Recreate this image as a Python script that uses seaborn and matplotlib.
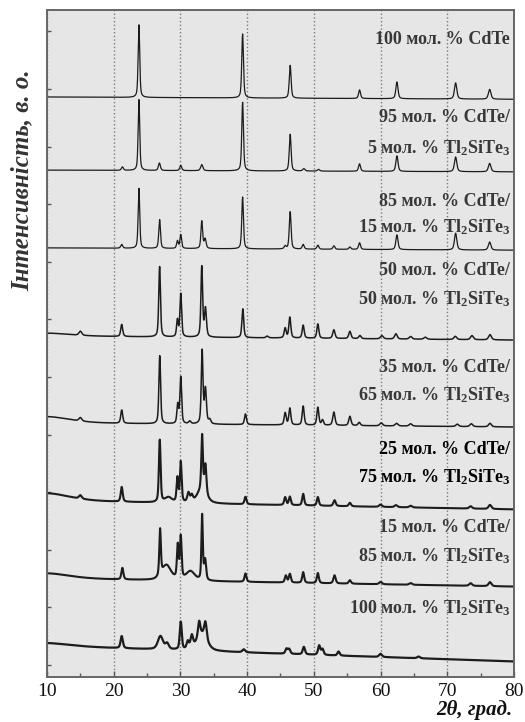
import numpy as np
import pandas as pd
import matplotlib
matplotlib.use("Agg")
import matplotlib.pyplot as plt
import seaborn as sns

# ---------------------------------------------------------------------------
# Powder XRD patterns of the CdTe – Tl2SiTe3 system (stacked, top to bottom)
# ---------------------------------------------------------------------------
samples = ["CdTe", "95CdTe", "85CdTe", "50CdTe", "35CdTe", "25CdTe", "15CdTe", "Tl2SiTe3"]

sample_labels = [
    ["100 мол. % CdTe"],
    ["95 мол. % CdTe/", "5 мол. % Tl$_2$SiTe$_3$"],
    ["85 мол. % CdTe/", "15 мол. % Tl$_2$SiTe$_3$"],
    ["50 мол. % CdTe/", "50 мол. % Tl$_2$SiTe$_3$"],
    ["35 мол. % CdTe/", "65 мол. % Tl$_2$SiTe$_3$"],
    ["25 мол. % CdTe/", "75 мол. % Tl$_2$SiTe$_3$"],
    ["15 мол. % CdTe/", "85 мол. % Tl$_2$SiTe$_3$"],
    ["100 мол. % Tl$_2$SiTe$_3$"],
]

# background level of every pattern at 2θ = 10° and at 2θ = 80°
background_start = [98.6, 85.9, 72.4, 57.1, 42.0, 28.5, 15.0, 3.3]
background_end = [98.2, 85.6, 72.0, 56.4, 41.3, 27.0, 13.6, 0.6]

# reflections: (2θ, height, FWHM)
peaks_cdte = [
    (23.78, 12.6, 0.28), (39.32, 11.1, 0.30), (46.45, 5.7, 0.32), (56.85, 1.5, 0.35),
    (62.45, 2.9, 0.38), (71.25, 2.8, 0.42), (76.35, 1.7, 0.45),
]
peaks_95 = [
    (21.3, 0.6, 0.35), (23.78, 12.3, 0.28), (26.85, 1.3, 0.35), (30.05, 0.9, 0.35),
    (33.2, 1.05, 0.40), (39.32, 11.9, 0.30), (46.45, 6.4, 0.32), (48.5, 0.4, 0.40),
    (50.7, 0.3, 0.40), (56.85, 1.3, 0.35), (62.45, 2.7, 0.38), (71.25, 2.55, 0.42),
    (76.35, 1.45, 0.45),
]
peaks_85 = [
    (21.2, 0.65, 0.35), (23.78, 10.4, 0.28), (26.88, 5.0, 0.30), (29.55, 1.3, 0.30),
    (30.05, 2.4, 0.30), (33.2, 4.75, 0.30), (33.7, 1.65, 0.35), (39.32, 9.0, 0.30),
    (45.7, 0.5, 0.35), (46.45, 6.5, 0.32), (48.4, 0.8, 0.35), (50.6, 0.7, 0.35),
    (53.0, 0.6, 0.35), (55.4, 0.4, 0.35), (56.85, 1.15, 0.35), (62.45, 2.55, 0.38),
    (71.25, 2.9, 0.42), (76.35, 1.4, 0.45),
]
peaks_50 = [
    (10.0, 0.5, 8.0), (15.0, 0.7, 0.5), (21.2, 2.1, 0.35), (26.88, 12.2, 0.30),
    (29.55, 2.9, 0.30), (30.05, 7.5, 0.30), (33.2, 12.2, 0.30), (33.75, 4.9, 0.35),
    (39.35, 5.0, 0.32), (43.0, 0.3, 0.40), (45.7, 1.7, 0.35), (46.4, 3.6, 0.35),
    (48.4, 2.25, 0.35), (50.6, 2.5, 0.35), (53.0, 1.5, 0.40), (55.4, 1.25, 0.40),
    (56.9, 0.55, 0.40), (60.2, 0.55, 0.50), (62.3, 0.9, 0.45), (64.5, 0.45, 0.50),
    (66.7, 0.35, 0.50), (71.2, 0.55, 0.50), (73.7, 0.7, 0.50), (76.4, 0.9, 0.50),
]
peaks_35 = [
    (10.0, 1.1, 8.0), (15.0, 0.6, 0.5), (21.2, 2.3, 0.35), (26.9, 11.8, 0.30),
    (29.6, 3.3, 0.30), (30.05, 8.1, 0.30), (31.4, 0.45, 0.40), (33.25, 12.7, 0.30),
    (33.75, 6.0, 0.35), (34.4, 0.7, 0.40), (39.75, 1.85, 0.35), (45.7, 2.1, 0.35),
    (46.4, 2.9, 0.35), (48.4, 3.3, 0.35), (50.6, 3.1, 0.35), (51.3, 0.9, 0.35),
    (53.0, 2.3, 0.40), (55.4, 1.6, 0.40), (56.8, 0.55, 0.40), (60.1, 0.5, 0.50),
    (62.4, 0.45, 0.50), (64.5, 0.4, 0.50), (71.5, 0.4, 0.50), (73.6, 0.5, 0.50),
    (76.4, 0.6, 0.50),
]
peaks_25 = [
    (10.0, 1.3, 8.0), (15.0, 0.6, 0.5), (21.2, 2.55, 0.35), (26.9, 10.8, 0.30),
    (28.2, 0.9, 1.2), (29.55, 4.2, 0.30), (30.05, 7.0, 0.30), (31.2, 1.6, 0.40),
    (31.7, 1.1, 0.40), (33.2, 2.3, 1.6), (33.25, 9.5, 0.28), (33.75, 5.0, 0.35),
    (39.75, 1.3, 0.35), (45.7, 1.35, 0.35), (46.4, 1.45, 0.35), (48.4, 2.0, 0.35),
    (50.6, 1.5, 0.35), (53.1, 1.0, 0.40), (55.4, 0.6, 0.40), (60.0, 0.4, 0.50),
    (62.3, 0.35, 0.50), (64.5, 0.3, 0.50), (73.5, 0.4, 0.50), (76.4, 0.7, 0.50),
]
peaks_15 = [
    (10.0, 0.9, 8.0), (21.3, 2.0, 0.35), (26.95, 8.0, 0.28), (27.9, 2.6, 1.6),
    (29.6, 5.8, 0.30), (30.05, 7.3, 0.30), (31.5, 1.6, 1.5), (33.25, 11.3, 0.25),
    (33.7, 3.5, 0.35), (39.75, 1.45, 0.35), (45.8, 1.2, 0.35), (46.4, 1.5, 0.35),
    (48.4, 1.85, 0.35), (50.6, 1.75, 0.35), (53.1, 1.4, 0.40), (55.4, 0.6, 0.40),
    (60.0, 0.4, 0.50), (64.5, 0.3, 0.50), (73.5, 0.45, 0.50), (76.4, 0.7, 0.50),
]
peaks_tl2site3 = [
    (10.0, 0.5, 8.0), (21.2, 2.1, 0.40), (27.0, 2.3, 0.90), (28.0, 1.0, 0.60),
    (30.05, 4.8, 0.35), (31.1, 1.3, 0.40), (31.7, 2.1, 0.45), (33.2, 2.9, 1.8),
    (32.8, 2.6, 0.40), (33.75, 2.9, 0.45), (39.5, 0.5, 0.50), (45.9, 0.85, 0.40),
    (46.3, 0.8, 0.40), (48.5, 1.3, 0.40), (50.8, 1.6, 0.40), (51.3, 1.0, 0.40),
    (53.7, 0.7, 0.40), (60.0, 0.55, 0.50), (65.7, 0.3, 0.50),
]
peak_tables = [peaks_cdte, peaks_95, peaks_85, peaks_50, peaks_35,
               peaks_25, peaks_15, peaks_tl2site3]

x_ticks = [10, 20, 30, 40, 50, 60, 70, 80]


def pseudo_voigt(x, center, height, fwhm, eta=0.5):
    hw = fwhm / 2.0
    t = ((x - center) / hw) ** 2
    return height * (eta / (1.0 + t) + (1.0 - eta) * np.exp(-np.log(2.0) * t))


# diffractometer scan grid
two_theta = np.arange(10.0, 80.0001, 0.02)

frames = []
for name, table, b0, b1 in zip(samples, peak_tables, background_start, background_end):
    intensity = b0 + (b1 - b0) * (two_theta - 10.0) / 70.0
    for c, h, w in table:
        intensity = intensity + pseudo_voigt(two_theta, c, h, w)
    frames.append(pd.DataFrame({"two_theta": two_theta, "intensity": intensity, "sample": name}))
df = pd.concat(frames, ignore_index=True)

# ---------------------------------------------------------------------------
sns.set_style("ticks")
plt.rcParams["font.family"] = ["Liberation Serif", "DejaVu Serif"]
plt.rcParams["mathtext.fontset"] = "custom"
plt.rcParams["mathtext.default"] = "regular"

fig = plt.figure(figsize=(5.25, 7.22), dpi=100)
ax = fig.add_axes([47 / 525, 45 / 722, 467 / 525, 667 / 722])
ax.set_facecolor("#e6e6e6")
ax.set_axisbelow(True)

line_widths = [0.9, 0.9, 0.9, 1.1, 1.1, 1.5, 1.5, 1.6]
for name, lw in zip(samples, line_widths):
    sns.lineplot(data=df[df["sample"] == name], x="two_theta", y="intensity",
                 ax=ax, color="#1c1c1c", linewidth=lw, estimator=None, legend=False)

ax.set_xlim(10, 80)
ax.set_ylim(-2.1, 113.7)

ax.set_xticks(x_ticks)
ax.set_xticks([15, 25, 35, 45, 55, 65, 75], minor=True)
ax.set_xticklabels([str(t) for t in x_ticks])
ax.set_yticks(np.arange(0, 111, 10))
ax.set_yticklabels([])
ax.tick_params(axis="x", which="major", direction="in", length=4, width=1,
               color="#555555", labelsize=14, pad=4, labelcolor="#111111")
ax.tick_params(axis="x", which="minor", direction="in", length=3, width=1, color="#555555")
ax.tick_params(axis="y", which="major", direction="in", length=3, width=1, color="#555555")

ax.grid(axis="x", which="major", linestyle=":", color="#7a7a7a", linewidth=1.0)

for side in ["left", "right", "top", "bottom"]:
    ax.spines[side].set_visible(True)
    ax.spines[side].set_color("#666666")
    ax.spines[side].set_linewidth(1.4)

ax.set_xlabel("")
ax.set_ylabel("")

# composition captions, right aligned above each pattern
caption_y = [[108.5], [95.0, 89.7], [80.5, 76.0], [68.4, 63.5], [51.6, 46.9],
             [37.4, 32.6], [23.85, 18.9], [9.9]]
caption_colors = ["#383838"] * 5 + ["#000000"] + ["#383838"] * 2
for lines, ys, col in zip(sample_labels, caption_y, caption_colors):
    for text, y in zip(lines, ys):
        ax.text(79.4, y, text, ha="right", va="center", fontsize=13,
                fontweight="bold", color=col)

fig.text(512 / 525, 2 / 722, "2θ, град.", ha="right", va="bottom",
         fontsize=15, fontweight="bold", fontstyle="italic", color="#111111")
ax.text(-0.053, 0.745, "Інтенсивність, в. о.", transform=ax.transAxes,
        rotation=90, ha="center", va="center", fontsize=18,
        fontweight="bold", fontstyle="italic", color="#333333")

fig.savefig("out.png", dpi=100)
